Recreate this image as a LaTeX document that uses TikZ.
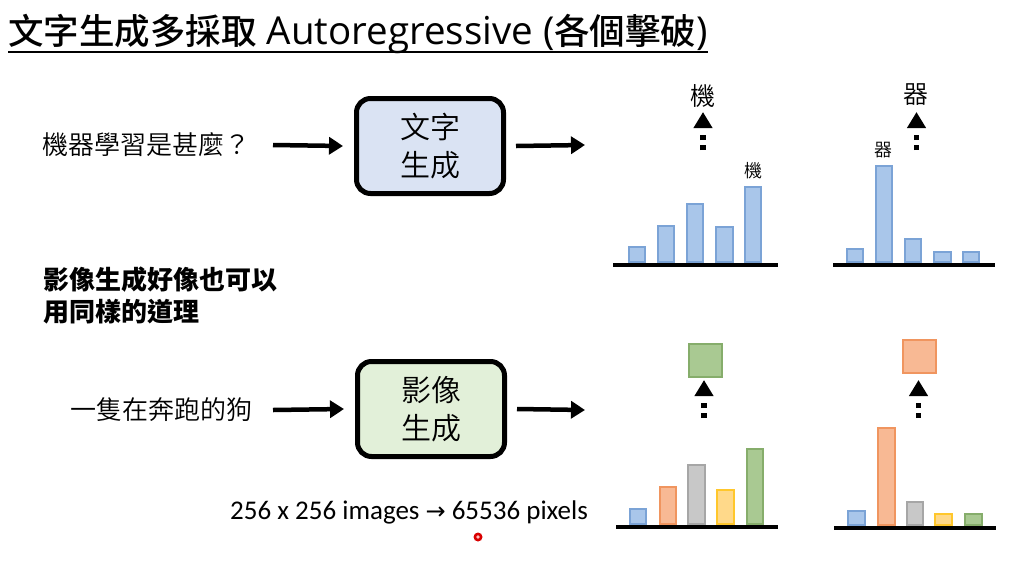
\documentclass[tikz,border=0pt]{standalone}
\usepackage{fontspec}
\setmainfont{Noto Sans CJK TC}
\newfontfamily\cjk{Noto Sans CJK TC}
\newfontfamily\cjkmed{Noto Sans CJK TC Medium}
\newfontfamily\cjklight{Noto Sans CJK TC DemiLight}
\newfontfamily\latin{Open Sans}
\newfontfamily\calib{Carlito}
\newfontfamily\dejavu{DejaVu Sans}
\usetikzlibrary{arrows.meta}
\definecolor{boxblue}{HTML}{DAE3F3}
\definecolor{boxgreen}{HTML}{E2F0D9}
\definecolor{bfill}{HTML}{A9C6EA}
\definecolor{bdraw}{HTML}{7BA3D6}
\definecolor{ofill}{HTML}{F8B994}
\definecolor{odraw}{HTML}{F0955F}
\definecolor{gfill}{HTML}{C8C8C8}
\definecolor{gdraw}{HTML}{A6A6A6}
\definecolor{yfill}{HTML}{FFD98A}
\definecolor{ydraw}{HTML}{FFC72C}
\definecolor{grfill}{HTML}{A9C992}
\definecolor{grdraw}{HTML}{86AD6B}
\begin{document}
\begin{tikzpicture}[x=1pt,y=-1pt,
  arr/.style={line width=4.5pt,-{Triangle[length=14pt,width=17pt]}},
  dotarr/.style={line width=5.5pt,dash pattern=on 5pt off 5pt on 5pt off 60pt,-{Triangle[length=16pt,width=18pt]}},
  genbox/.style={draw,line width=5pt,rounded corners=14pt,minimum width=147pt,minimum height=95pt,align=center,font=\cjklight\fontsize{30}{38}\selectfont,inner sep=0pt},
  bb/.style={fill=bfill,draw=bdraw,line width=1.3pt},
  bo/.style={fill=ofill,draw=odraw,line width=1.3pt},
  bg/.style={fill=gfill,draw=gdraw,line width=1.3pt},
  by/.style={fill=yfill,draw=ydraw,line width=1.3pt},
  bgr/.style={fill=grfill,draw=grdraw,line width=1.3pt},
  axisline/.style={line width=4pt},
  word/.style={inner sep=0pt,font=\cjklight},
  ]
\fill[white] (0,0) rectangle (1033,560);
\useasboundingbox (0,0) rectangle (1033,560);
% title
\node[anchor=base west,inner sep=0pt] (title) at (8,44)
  {\cjkmed\fontsize{35.5}{40}\selectfont 文字生成多採取{\latin\fontsize{38.5}{40}\selectfont{} Autoregressive (}各個擊破{\latin\fontsize{38.5}{40}\selectfont )}};
\draw[line width=2.5pt] ([yshift=-8pt]title.base west) -- ([yshift=-8pt]title.base east);
% top row
\node[word,anchor=west] (in1) at (42,145) {\fontsize{26}{30}\selectfont 機器學習是甚麼？};
\node[genbox,fill=boxblue] (box1) at (430,146) {文字\\生成};
\coordinate (i1) at (273,145);
\coordinate (o1) at (585,145);
\draw[arr] (i1) -- ([xshift=-11pt]box1.west);
\draw[arr] ([xshift=10pt]box1.east) -- (o1);
% bottom row
\node[word,anchor=west] (in2) at (70,410) {\fontsize{26}{30}\selectfont 一隻在奔跑的狗};
\node[genbox,fill=boxgreen] (box2) at (431,409) {影像\\生成};
\coordinate (i2) at (273,410);
\coordinate (o2) at (585,410);
\draw[arr] (i2) -- ([xshift=-11pt]box2.west);
\draw[arr] ([xshift=10pt]box2.east) -- (o2);
% note
\node[anchor=north west,inner sep=0pt,align=left,font=\bfseries\fontsize{26}{32}\selectfont] (note) at (43,267) {影像生成好像也可以\\用同樣的道理};
% pixels text
\node[anchor=base west,inner sep=0pt] (pix) at (230,519) {\calib\fontsize{27}{30}\selectfont 256 x 256 images {\dejavu\fontsize{24}{30}\selectfont →} 65536 pixels};
% chart 1
\draw[bb] (629,262) rectangle (645,247);
\draw[bb] (658,262) rectangle (674,226);
\draw[bb] (687,262) rectangle (703,204);
\draw[bb] (716,262) rectangle (733,227);
\draw[bb] (745,262) rectangle (761,187);
\draw[axisline] (613,264.5) -- (778,264.5);
\node[word] (s1) at (753,171) {\fontsize{18}{20}\selectfont 機};
\node[word] (w1) at (703,96) {\fontsize{25}{28}\selectfont 機};
\coordinate (d1) at (703,150);
\coordinate (t1) at (703,112);
\draw[dotarr] (d1) -- (t1);
% chart 2
\draw[bb] (847,262) rectangle (863,249);
\draw[bb] (876,262) rectangle (892,166);
\draw[bb] (905,262) rectangle (921,239);
\draw[bb] (934,262) rectangle (951,252);
\draw[bb] (963,262) rectangle (979,252);
\draw[axisline] (833,265) -- (995,265);
\node[word] (s2) at (883,150) {\fontsize{18}{20}\selectfont 器};
\node[word] (w2) at (916,95) {\fontsize{25}{28}\selectfont 器};
\coordinate (d2) at (916.5,150);
\coordinate (t2) at (916.5,112);
\draw[dotarr] (d2) -- (t2);
% chart 3
\draw[bb] (630,524) rectangle (646,509);
\draw[bo] (660,524) rectangle (676,487);
\draw[bg] (688,524) rectangle (705,465);
\draw[by] (717,524) rectangle (734,490);
\draw[bgr] (747,524) rectangle (763,449);
\draw[axisline] (616,527) -- (778,527);
\node[bgr,minimum size=33pt,inner sep=0pt] (px1) at (705.5,360.5) {};
\coordinate (d3) at (704,418);
\coordinate (t3) at (704,380);
\draw[dotarr] (d3) -- (t3);
% chart 4
\draw[bb] (848,525) rectangle (865,511);
\draw[bo] (878,525) rectangle (895,428);
\draw[bg] (907,525) rectangle (923,502);
\draw[by] (935,525) rectangle (952,514);
\draw[bgr] (965,525) rectangle (982,514);
\draw[axisline] (834,528) -- (996,528);
\node[bo,minimum size=33pt,inner sep=0pt] (px2) at (919.5,356.5) {};
\coordinate (d4) at (918.5,418);
\coordinate (t4) at (918.5,380);
\draw[dotarr] (d4) -- (t4);
% pointer
\fill[red!85!black] (478,537) circle (4.5pt);
\fill[red!25!white] (478,537) circle (1.8pt);
\end{tikzpicture}
\end{document}
